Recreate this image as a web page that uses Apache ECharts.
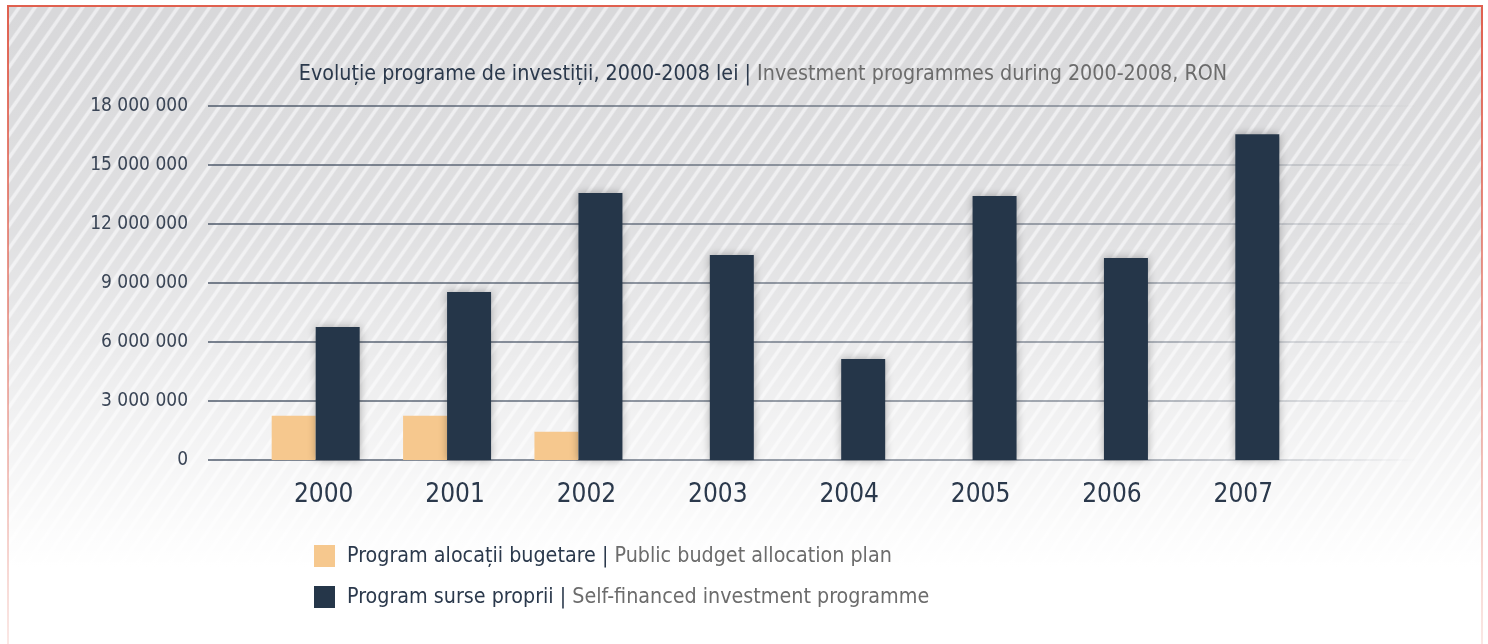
<!DOCTYPE html>
<html>
<head>
<meta charset="utf-8">
<script src="https://cdn.jsdelivr.net/npm/echarts@6/dist/echarts.min.js"></script>
<style>
  html, body { margin: 0; padding: 0; background: #fff; }
  #wrap { position: relative; width: 1488px; height: 644px; overflow: hidden; background: #fff; }
  #bg {
    position: absolute; left: 8px; top: 5px; width: 1474px; height: 639px;
    background:
      linear-gradient(to bottom, rgba(255,255,255,0) 0%, rgba(255,255,255,0.2) 35%, rgba(255,255,255,0.7) 68%, rgba(255,255,255,1) 88%),
      repeating-linear-gradient(125deg, #d8d8da 0px, #d8d8da 8px, #ededef 9.5px, #ededef 11.5px, #d8d8da 13px);
  }
  #btop { position: absolute; left: 7px; top: 5px; width: 1476px; height: 2px; background: #e0604f; }
  #bleft { position: absolute; left: 7px; top: 5px; width: 2px; height: 639px; background: linear-gradient(to bottom, #e0604f, rgba(224,96,79,0.15)); }
  #bright { position: absolute; left: 1481px; top: 5px; width: 2px; height: 639px; background: linear-gradient(to bottom, #e0604f, rgba(224,96,79,0.15)); }
  #chart { position: absolute; left: 0; top: 0; width: 1488px; height: 644px; }
</style>
</head>
<body>
<div id="wrap">
  <div id="bg"></div>
  <div id="btop"></div>
  <div id="bleft"></div>
  <div id="bright"></div>
  <div id="chart"></div>
</div>
<script>
  const years = ['2000', '2001', '2002', '2003', '2004', '2005', '2006', '2007']
  const budgetName = 'Program alocații bugetare | Public budget allocation plan'
  const ownName = 'Program surse proprii | Self-financed investment programme'
  const budgetValues = [2250000, 2250000, 1440000, null, null, null, null, null]
  const ownValues = [6760000, 8540000, 13570000, 10420000, 5130000, 13420000, 10270000, 16560000]
  const yTicks = { min: 0, max: 18000000, interval: 3000000 }

  const font = '"Liberation Sans Narrow", "DejaVu Sans Condensed", Arial, sans-serif'
  const dark = '#2b394c'
  const gray = '#6c6c6c'

  const chart = echarts.init(document.getElementById('chart'))

  // dark part up to the "|", grey part after it
  function split(name) {
    const i = name.indexOf('|')
    return '{a|' + name.slice(0, i + 1) + '}{b|' + name.slice(i + 1) + '}'
  }

  const gridLine = new echarts.graphic.LinearGradient(0, 0, 1, 0, [
    { offset: 0, color: 'rgba(70,82,100,0.95)' },
    { offset: 0.75, color: 'rgba(70,82,100,0.6)' },
    { offset: 1, color: 'rgba(70,82,100,0)' }
  ])

  chart.setOption({
    backgroundColor: 'transparent',
    animation: false,
    textStyle: { fontFamily: font },
    title: {
      text: split('Evoluție programe de investiții, 2000-2008 lei | Investment programmes during 2000-2008, RON'),
      left: 758,
      textAlign: 'center',
      top: 59,
      textStyle: {
        rich: {
          a: { fontFamily: font, fontSize: 21.3, fontWeight: 'normal', color: dark },
          b: { fontFamily: font, fontSize: 21.3, fontWeight: 'normal', color: gray }
        }
      }
    },
    legend: {
      orient: 'vertical',
      left: 309,
      top: 540,
      itemWidth: 21,
      itemHeight: 22,
      itemGap: 19,
      icon: 'rect',
      formatter: split,
      textStyle: {
        padding: [0, 0, 0, 7],
        rich: {
          a: { fontFamily: font, fontSize: 21.3, color: dark },
          b: { fontFamily: font, fontSize: 21.3, color: gray }
        }
      },
      data: [budgetName, ownName]
    },
    grid: [
      { left: 208, right: 73, top: 106, bottom: 184 },
      { left: 250, right: 187, top: 106, bottom: 184 }
    ],
    xAxis: [
      { type: 'value', gridIndex: 0, show: false },
      {
        type: 'category',
        gridIndex: 1,
        data: years,
        axisLine: { show: false },
        axisTick: { show: false },
        axisLabel: {
          margin: 22,
          fontSize: 26,
          color: dark,
          fontFamily: font,
          padding: [0, 0, 0, 16]
        }
      }
    ],
    yAxis: [
      {
        type: 'value',
        gridIndex: 0,
        min: yTicks.min,
        max: yTicks.max,
        interval: yTicks.interval,
        axisLine: { show: false },
        axisTick: { show: false },
        axisLabel: {
          margin: 20,
          fontSize: 19,
          color: '#3a4556',
          fontFamily: font,
          formatter: v => String(v).replace(/\B(?=(\d{3})+(?!\d))/g, ' ')
        },
        splitLine: { lineStyle: { color: gridLine, width: 1.5 } }
      },
      {
        type: 'value',
        gridIndex: 1,
        min: yTicks.min,
        max: yTicks.max,
        interval: yTicks.interval,
        show: false,
        splitLine: { show: false }
      }
    ],
    series: [
      {
        name: budgetName,
        type: 'bar',
        xAxisIndex: 1,
        yAxisIndex: 1,
        data: budgetValues,
        barWidth: 44,
        barGap: '0%',
        itemStyle: { color: '#f6c88e' }
      },
      {
        name: ownName,
        type: 'bar',
        xAxisIndex: 1,
        yAxisIndex: 1,
        data: ownValues,
        barWidth: 44,
        barGap: '0%',
        itemStyle: {
          color: '#253649',
          shadowBlur: 8,
          shadowColor: 'rgba(0,0,0,0.3)'
        }
      }
    ]
  })
</script>
</body>
</html>
